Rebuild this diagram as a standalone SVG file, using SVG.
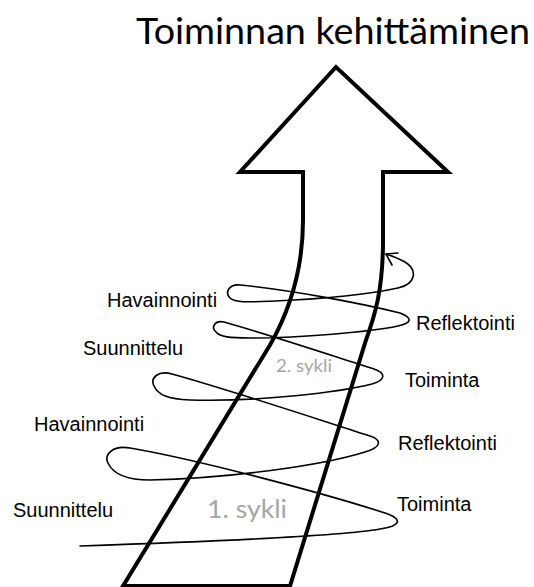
<svg xmlns="http://www.w3.org/2000/svg" width="534" height="587" viewBox="0 0 534 587">
<style>
.lbl{font-family:"Liberation Sans",Arial,sans-serif;font-size:20px;fill:#000}
.cyc{font-family:Lato,"Open Sans",sans-serif;fill:#a6a6a6}
.ttl{font-family:Lato,"Open Sans",sans-serif;font-size:36px;fill:#000}
.shaft{fill:none;stroke:#000;stroke-width:4;stroke-linejoin:miter}
.coil{fill:none;stroke:#000;stroke-width:1.6;stroke-linecap:round;stroke-linejoin:round}
</style>
<rect width="534" height="587" fill="#fff"/>
<g id="title"><text class="ttl" x="136" y="44" textLength="394" lengthAdjust="spacingAndGlyphs">Toiminnan kehittäminen</text></g>
<g id="arrow">
<path class="shaft" d="M123,586 L270,345 C290,310 303,270 303,220 L303,172 L240,172 L336,67 L448,172 L383,172 L383,240 C383,290 375,315 366,340 L290,586 Z"/>
</g>
<g id="connectors">
<path class="coil" d="M80,546 C230,541 340,536 380,529 C400,526 403,520 388,514 C330,495 200,460 130,448 C112,445 104,455 108,463 C113,474 125,480 150,480 C230,478 320,466 365,452 C382,447 382,440 370,436 C320,420 230,390 172,374 C158,370 150,378 154,386 C158,395 168,399 190,400 C260,402 340,392 372,384 C386,380 386,373 374,369 C330,355 270,335 224,322 C214,320 211,328 216,332 C220,337 230,338 250,338 C300,338 370,332 398,326 C412,323 413,318 400,313 C360,303 290,290 240,285 C228,284 225,293 230,298 C235,303 250,302 275,301 C320,299 370,294 398,288 C416,284 418,270 405,262 C398,258 392,256 386,254"/>
<path class="coil" d="M398,253 L386,254 L392,265"/>
</g>
<g id="havainnointi-2"><text class="lbl" x="107" y="307">Havainnointi</text></g>
<g id="suunnittelu-2"><text class="lbl" x="83" y="355">Suunnittelu</text></g>
<g id="reflektointi-2"><text class="lbl" x="416" y="330">Reflektointi</text></g>
<g id="toiminta-2"><text class="lbl" x="405" y="387">Toiminta</text></g>
<g id="sykli-2"><text class="cyc" x="276" y="372" font-size="17" textLength="56" lengthAdjust="spacingAndGlyphs">2. sykli</text></g>
<g id="havainnointi-1"><text class="lbl" x="34" y="431">Havainnointi</text></g>
<g id="reflektointi-1"><text class="lbl" x="398" y="450">Reflektointi</text></g>
<g id="suunnittelu-1"><text class="lbl" x="13" y="517">Suunnittelu</text></g>
<g id="toiminta-1"><text class="lbl" x="397" y="511">Toiminta</text></g>
<g id="sykli-1"><text class="cyc" x="207" y="518" font-size="25" textLength="80" lengthAdjust="spacingAndGlyphs">1. sykli</text></g>
</svg>
